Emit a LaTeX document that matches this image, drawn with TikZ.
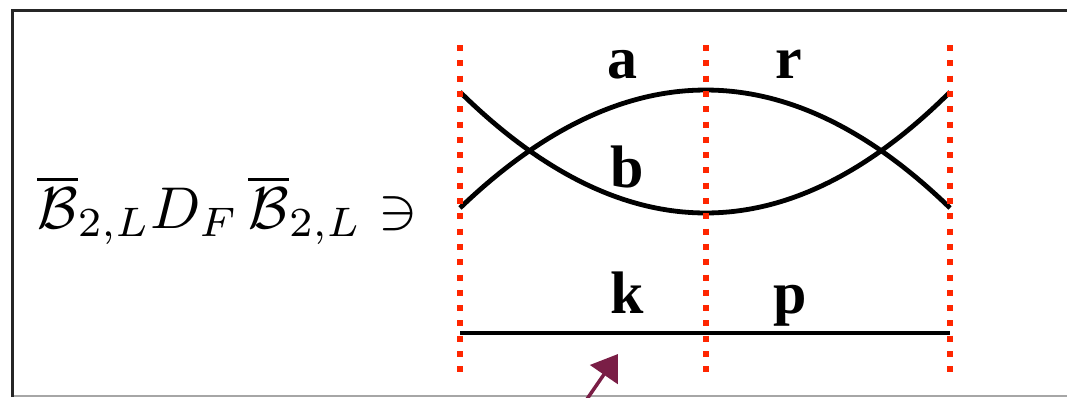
\documentclass[tikz,border=0pt]{standalone}
\usepackage{fontspec}
\newfontfamily\boldserif{Liberation Serif}
\usetikzlibrary{arrows.meta}
\definecolor{dotred}{RGB}{255,38,0}
\definecolor{arrowmaroon}{RGB}{122,30,70}
\begin{document}
\begin{tikzpicture}[x=1pt,y=-1pt,
  guide/.style={draw=dotred,line width=6pt,dash pattern=on 6pt off 9.3pt},
  strand/.style={draw=black,line width=4.8pt},
  lbl/.style={inner sep=0pt,anchor=base,font=\fontsize{60}{62}\selectfont\boldserif\bfseries},
  framebar/.style={draw=black!85,line width=3pt},
  pointer/.style={draw=arrowmaroon,line width=3.5pt,-{Triangle[length=25pt,width=33pt]},arrowmaroon}]
\useasboundingbox (0,0) rectangle (1067,397);
% frame
\coordinate (fTL) at (12,10);
\coordinate (fTR) at (1067,10);
\coordinate (fBL) at (12,397);
\coordinate (gL) at (12,396);
\coordinate (gR) at (1067,396);
\draw[draw=black!35,line width=1.5pt] (gL) -- (gR);
\draw[framebar] (fBL) -- (fTL) -- (fTR);
% formula
\node[inner sep=0pt,anchor=base west] (formula) at (37,228)
  {\scalebox{5.9}{$\overline{\mathcal{B}}_{2,L}D_F\,\overline{\mathcal{B}}_{2,L}\ni$}};
% guide lines
\coordinate (g1t) at (460,45); \coordinate (g1b) at (460,372.5);
\coordinate (g2t) at (706,45); \coordinate (g2b) at (706,372.5);
\coordinate (g3t) at (950,45); \coordinate (g3b) at (950,372.5);
% strands
\coordinate (ulS) at (460,208); \coordinate (ulE) at (950,208);
\coordinate (llS) at (460,92); \coordinate (llE) at (950,92);
\coordinate (hS) at (460,333); \coordinate (hE) at (950,333);
\draw[strand] (ulS) .. controls (624,50.7) and (788,50.7) .. (ulE);
\draw[strand] (llS) .. controls (624,253.3) and (788,253.3) .. (llE);
\draw[strand] (hS) -- (hE);
\draw[guide] (g1t) -- (g1b);
\draw[guide] (g2t) -- (g2b);
\draw[guide] (g3t) -- (g3b);
% labels
\node[lbl] (la) at (622,78) {a};
\node[lbl] (lr) at (789,78) {r};
\node[lbl] (lb) at (627,187) {b};
\node[lbl] (lk) at (627,313) {k};
\node[lbl] (lp) at (790,313) {p};
% pointer arrow
\coordinate (arrS) at (587,399);
\coordinate (arrT) at (618,354);
\draw[pointer] (arrS) -- (arrT);
\end{tikzpicture}
\end{document}
